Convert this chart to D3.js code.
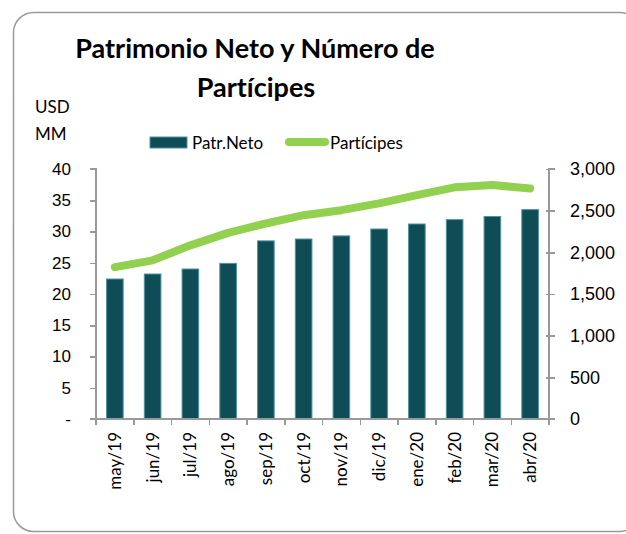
<!DOCTYPE html>
<html lang="es">
<head>
  <meta charset="UTF-8">
  <title>Patrimonio Neto y Número de Partícipes</title>
  <script src="https://d3js.org/d3.v7.min.js"></script>
  <style>
    body { margin: 0; background: #fff; }
    svg { display: block; font-family: Lato, "Open Sans", sans-serif; font-variant-ligatures: none; }
    .axis path, .axis line { stroke: #999; stroke-width: 1.5px; shape-rendering: crispEdges; }
    .axis text { font-size: 17px; fill: #000; }
    .axis.right text { font-size: 18px; }
  </style>
</head>
<body>
  <script>
    // data
    const months = ["may/19", "jun/19", "jul/19", "ago/19", "sep/19", "oct/19",
                    "nov/19", "dic/19", "ene/20", "feb/20", "mar/20", "abr/20"];
    const patrNeto = [22.4, 23.2, 24.0, 24.9, 28.5, 28.8, 29.3, 30.4, 31.2, 31.9, 32.4, 33.5];
    const participes = [1823, 1904, 2084, 2233, 2346, 2446, 2506, 2587, 2687, 2780, 2807, 2767];
    const leftTicks = [0, 5, 10, 15, 20, 25, 30, 35, 40];
    const rightTicks = [0, 500, 1000, 1500, 2000, 2500, 3000];

    const width = 626, height = 534;
    const plot = {left: 96, right: 549, top: 169, bottom: 419};

    const svg = d3.select("body").append("svg")
      .attr("width", width).attr("height", height);

    // outer frame
    svg.append("rect")
      .attr("x", 13.5).attr("y", 12.5)
      .attr("width", 626).attr("height", 519)
      .attr("rx", 20)
      .attr("fill", "none").attr("stroke", "#9a9a9a").attr("stroke-width", 1.5);

    // title
    const title = svg.append("text")
      .attr("text-anchor", "middle")
      .style("font-size", "27px").style("font-weight", "bold");
    title.append("tspan").attr("x", 255).attr("y", 58).text("Patrimonio Neto y Número de");
    title.append("tspan").attr("x", 256).attr("y", 97).text("Partícipes");

    svg.append("text").attr("x", 35).attr("y", 113).style("font-size", "17px").text("USD");
    svg.append("text").attr("x", 35).attr("y", 140).style("font-size", "17px").text("MM");

    // scales
    const x = d3.scaleBand().domain(months).range([plot.left, plot.right]).paddingInner(0.56).paddingOuter(0.28);
    const xEdge = d3.scalePoint().domain(d3.range(months.length + 1)).range([plot.left, plot.right]);
    const yL = d3.scaleLinear().domain([0, 40]).range([plot.bottom, plot.top]);
    const yR = d3.scaleLinear().domain([0, 3000]).range([plot.bottom, plot.top]);

    // bars
    svg.selectAll(".bar").data(patrNeto).join("rect")
      .attr("class", "bar")
      .attr("x", (d, i) => x(months[i]))
      .attr("width", x.bandwidth())
      .attr("y", d => yL(d))
      .attr("height", d => yL(0) - yL(d))
      .attr("fill", "#0f4d56")
      .attr("stroke", "#4f93a6").attr("stroke-width", 1);

    // axes
    const leftAxis = svg.append("g").attr("class", "axis")
      .attr("transform", `translate(${plot.left},0)`)
      .call(d3.axisLeft(yL).tickValues(leftTicks).tickSize(6).tickPadding(19)
        .tickFormat(d => d === 0 ? "-" : d));
    leftAxis.select(".domain").attr("d", `M-6,${plot.top}H0V${plot.bottom + 5}`);

    const rightAxis = svg.append("g").attr("class", "axis right")
      .attr("transform", `translate(${plot.right},0)`)
      .call(d3.axisRight(yR).tickValues(rightTicks).tickSize(6).tickPadding(15)
        .tickFormat(d3.format(",")));
    rightAxis.select(".domain").attr("d", `M6,${plot.top}H0V${plot.bottom + 5}`);
    rightAxis.selectAll(".tick line").attr("x1", -3);

    // x axis baseline and separators
    const xAxis = svg.append("g").attr("class", "axis");
    xAxis.append("line")
      .attr("x1", plot.left - 6).attr("x2", plot.right + 6)
      .attr("y1", plot.bottom).attr("y2", plot.bottom);
    xAxis.selectAll(".sep").data(d3.range(months.length + 1)).join("line")
      .attr("class", "sep")
      .attr("x1", d => xEdge(d)).attr("x2", d => xEdge(d))
      .attr("y1", plot.bottom).attr("y2", plot.bottom + 6);
    xAxis.selectAll(".lbl").data(months).join("text")
      .attr("class", "lbl")
      .attr("transform", d => `translate(${x(d) + x.bandwidth() / 2},${plot.bottom + 13}) rotate(-90)`)
      .attr("text-anchor", "end")
      .attr("dy", "0.35em")
      .text(d => d);

    // line
    const line = d3.line()
      .x((d, i) => x(months[i]) + x.bandwidth() / 2)
      .y(d => yR(d));
    svg.append("path").datum(participes)
      .attr("d", line)
      .attr("fill", "none").attr("stroke", "#92d050")
      .attr("stroke-width", 8).attr("stroke-linecap", "round").attr("stroke-linejoin", "round");

    // legend
    const lg = svg.append("g").style("font-size", "17px");
    lg.append("rect").attr("x", 150).attr("y", 137).attr("width", 37).attr("height", 11)
      .attr("fill", "#0f4d56").attr("stroke", "#4f93a6");
    lg.append("text").attr("x", 192).attr("y", 149).text("Patr.Neto");
    lg.append("line").attr("x1", 289).attr("x2", 325).attr("y1", 142).attr("y2", 142)
      .attr("stroke", "#92d050").attr("stroke-width", 8).attr("stroke-linecap", "round");
    lg.append("text").attr("x", 330).attr("y", 149).text("Partícipes");
  </script>
</body>
</html>
